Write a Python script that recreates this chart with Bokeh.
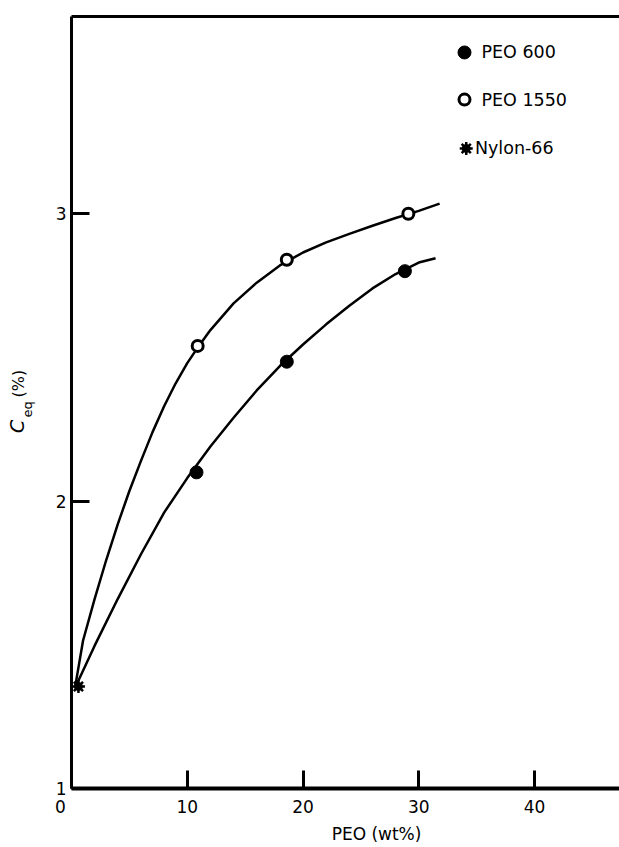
from bokeh.plotting import figure
from bokeh.models import Range1d, Label, FixedTicker, LinearAxis
from bokeh.embed import file_html
from bokeh.resources import INLINE

# ---- data ----
peo600_x = [10.8, 18.6, 28.8]
peo600_y = [2.10, 2.485, 2.80]
peo1550_x = [10.9, 18.6, 29.1]
peo1550_y = [2.54, 2.84, 3.00]
nylon_x = [0.6]
nylon_y = [1.355]

curve600_x = [0.3, 2, 4, 6, 8, 10, 12, 14, 16, 18, 20, 22, 24, 26, 28, 30, 31.45]
curve600_y = [1.35, 1.497, 1.66, 1.815, 1.96, 2.08, 2.19, 2.29, 2.385, 2.47, 2.545,
              2.615, 2.68, 2.74, 2.79, 2.83, 2.845]
curve1550_x = [0.3, 1, 2, 3, 4, 5, 6, 7, 8, 9, 10, 11, 12, 14, 16, 18, 20, 22, 24, 26,
               28, 30, 31.8]
curve1550_y = [1.35, 1.515, 1.66, 1.795, 1.92, 2.035, 2.14, 2.24, 2.33, 2.41, 2.48, 2.54,
               2.595, 2.688, 2.76, 2.82, 2.865, 2.90, 2.93, 2.958, 2.985, 3.01, 3.035]

x_ticks = [0, 10, 20, 30, 40]
y_ticks = [1, 2, 3]
legend_labels = ["PEO 600", "PEO 1550", "Nylon-66"]

FONT = "DejaVu Sans"
X_MAX = 47.34
Y_TOP = 3.685

p = figure(width=619, height=847, output_backend="svg", toolbar_location=None,
           x_range=Range1d(-6.133, X_MAX), y_range=Range1d(0.7947, 3.7418),
           min_border=0)
p.outline_line_color = None
p.grid.grid_line_color = None
p.background_fill_color = "white"
p.border_fill_color = "white"

for ax in (p.xaxis[0], p.yaxis[0]):
    ax.major_tick_in = 18
    ax.major_tick_out = 0
    ax.minor_tick_in = 0
    ax.minor_tick_out = 0
    ax.axis_line_color = "black"
    ax.major_tick_line_color = "black"
    ax.major_tick_line_width = 3
    ax.major_label_text_font = FONT
    ax.major_label_text_font_size = "17px"
    ax.major_label_text_color = "black"

p.xaxis.fixed_location = 1
p.xaxis.bounds = (0, X_MAX)
p.xaxis.ticker = FixedTicker(ticks=x_ticks)
p.xaxis.major_label_overrides = {0: ""}
p.xaxis.axis_line_width = 4
p.xaxis.major_label_standoff = 12

p.yaxis.fixed_location = 0
p.yaxis.bounds = (1, Y_TOP)
p.yaxis.ticker = FixedTicker(ticks=y_ticks)
p.yaxis.axis_line_width = 3
p.yaxis.major_label_standoff = 5

# top border as a tickless axis
top = LinearAxis(fixed_location=Y_TOP, bounds=(0, X_MAX), ticker=FixedTicker(ticks=[]),
                 axis_line_width=3, axis_line_color="black",
                 major_tick_line_color=None, minor_tick_line_color=None,
                 major_label_text_font_size="0px")
p.add_layout(top, "above")

# curves
p.line(curve600_x, curve600_y, line_color="black", line_width=2.5)
p.line(curve1550_x, curve1550_y, line_color="black", line_width=2.5)

# points
p.scatter(peo600_x, peo600_y, marker="circle", size=13, fill_color="black", line_color="black")
p.scatter(peo1550_x, peo1550_y, marker="circle", size=11, fill_color="white",
          line_color="black", line_width=3)
p.scatter(nylon_x, nylon_y, marker="circle", size=8, fill_color="black", line_color="black")
p.scatter(nylon_x, nylon_y, marker="asterisk", size=13, line_color="black", line_width=2.5)

# legend (manual)
lx = 33.95
ly = [3.561, 3.397, 3.227]
p.scatter([lx], [ly[0]], marker="circle", size=13, fill_color="black", line_color="black")
p.scatter([lx], [ly[1]], marker="circle", size=11, fill_color="white", line_color="black",
          line_width=3)
p.scatter([lx + 0.15], [ly[2]], marker="circle", size=8, fill_color="black", line_color="black")
p.scatter([lx + 0.15], [ly[2]], marker="asterisk", size=13, line_color="black", line_width=2.5)
text_x = [35.42, 35.42, 34.85]
for tx, ty, t in zip(text_x, ly, legend_labels):
    p.add_layout(Label(x=tx, y=ty, text=t, text_font=FONT, text_font_size="17.5px",
                       text_align="left", text_baseline="middle", text_color="black"))

# "0" tick label at origin
p.add_layout(Label(x=-0.95, y=0.937, text="0", text_font=FONT, text_font_size="17px",
                   text_align="center", text_baseline="middle", text_color="black"))

# x axis title
p.add_layout(Label(x=26.35, y=0.842, text="PEO (wt%)", text_font=FONT,
                   text_font_size="17px", text_align="center", text_baseline="middle",
                   text_color="black"))

# y axis title: C_eq (%)
p.add_layout(Label(x=-4.75, y=2.26, text="C", text_font=FONT, text_font_size="19px",
                   text_font_style="italic", angle=1.5708, text_align="center",
                   text_baseline="middle", text_color="black"))
p.add_layout(Label(x=-3.8, y=2.319, text="eq", text_font=FONT, text_font_size="13px",
                   angle=1.5708, text_align="center", text_baseline="middle",
                   text_color="black"))
p.add_layout(Label(x=-4.58, y=2.409, text="(%)", text_font=FONT, text_font_size="16px",
                   angle=1.5708, text_align="center", text_baseline="middle",
                   text_color="black"))

open("out.html", "w").write(file_html(p, INLINE))
